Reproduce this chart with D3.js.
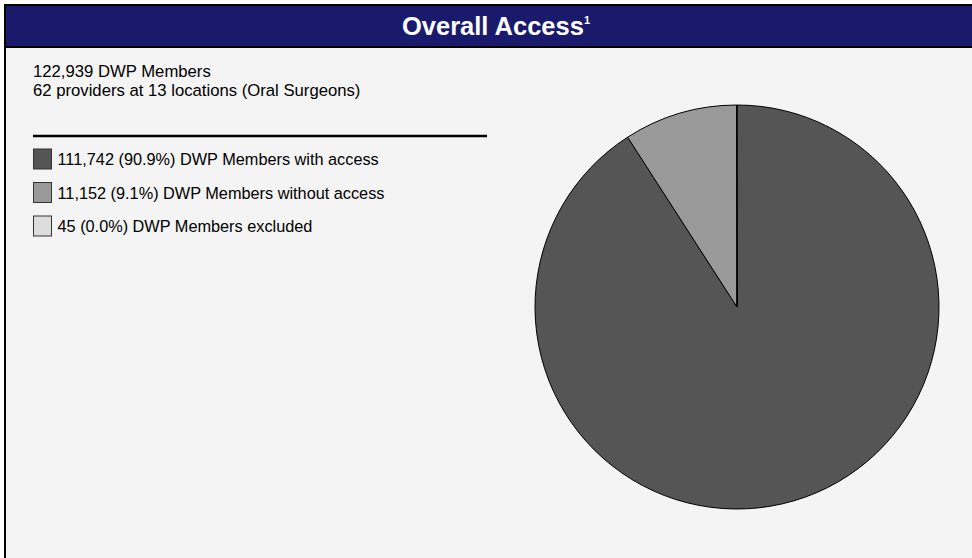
<!DOCTYPE html>
<html>
<head>
<meta charset="utf-8">
<script src="https://cdn.jsdelivr.net/npm/d3@7/dist/d3.min.js"></script>
<style>
  html, body { margin: 0; padding: 0; background: #ffffff; }
  svg { display: block; font-family: "Liberation Sans", Arial, sans-serif; }
</style>
</head>
<body>
<svg id="chart" width="972" height="558"></svg>
<script>
// ---- data ----
const title = "Overall Access";
const titleNote = "1";
const headerLines = ["122,939 DWP Members", "62 providers at 13 locations (Oral Surgeons)"];
const categories = ["DWP Members with access", "DWP Members without access", "DWP Members excluded"];
const values = [111742, 11152, 45];
const percentLabels = ["90.9%", "9.1%", "0.0%"];
const colors = ["#555555", "#999999", "#dddddd"];

const svg = d3.select("#chart");
const W = 972, H = 558;

// panel
svg.append("rect").attr("x", 5).attr("y", 5).attr("width", W + 10).attr("height", H + 10)
  .attr("fill", "#f4f4f4").attr("stroke", "#000").attr("stroke-width", 2);

// header band
svg.append("rect").attr("x", 5).attr("y", 5).attr("width", W + 10).attr("height", 42)
  .attr("fill", "#1a1a6c").attr("stroke", "#000").attr("stroke-width", 2);

const t = svg.append("text").attr("x", 496).attr("y", 35).attr("text-anchor", "middle")
  .attr("fill", "#fff").attr("font-weight", "bold").attr("font-size", 25.5);
t.append("tspan").text(title);
t.append("tspan").attr("font-size", 11).attr("dy", -11).text(titleNote);

// header text lines
svg.selectAll("text.hdr").data(headerLines).join("text").attr("class", "hdr")
  .attr("x", 33).attr("y", (d, i) => 77 + i * 19)
  .attr("font-size", 16.7).attr("fill", "#000").text(d => d);

svg.append("line").attr("x1", 33).attr("x2", 487).attr("y1", 136).attr("y2", 136)
  .attr("stroke", "#000").attr("stroke-width", 2.5);

// legend
const fmt = d3.format(",");
const leg = svg.selectAll("g.leg").data(categories).join("g").attr("class", "leg")
  .attr("transform", (d, i) => `translate(33, ${148.5 + i * 33.5})`);
leg.append("rect").attr("x", 0.5).attr("y", 0.5).attr("width", 18).attr("height", 20)
  .attr("fill", (d, i) => colors[i]).attr("stroke", "#333").attr("stroke-width", 1);
leg.append("text").attr("x", 24.5).attr("y", 16.5).attr("font-size", 16.3).attr("fill", "#000")
  .text((d, i) => `${fmt(values[i])} (${percentLabels[i]}) ${d}`);

// pie
const cx = 737, cy = 307, r = 202;
const pie = d3.pie().sort(null).value(d => d);
const arc = d3.arc().innerRadius(0).outerRadius(r);
svg.append("g").attr("transform", `translate(${cx},${cy})`)
  .selectAll("path").data(pie(values)).join("path")
  .attr("d", arc).attr("fill", (d, i) => colors[i])
  .attr("stroke", "#000").attr("stroke-width", 1);
</script>
</body>
</html>
